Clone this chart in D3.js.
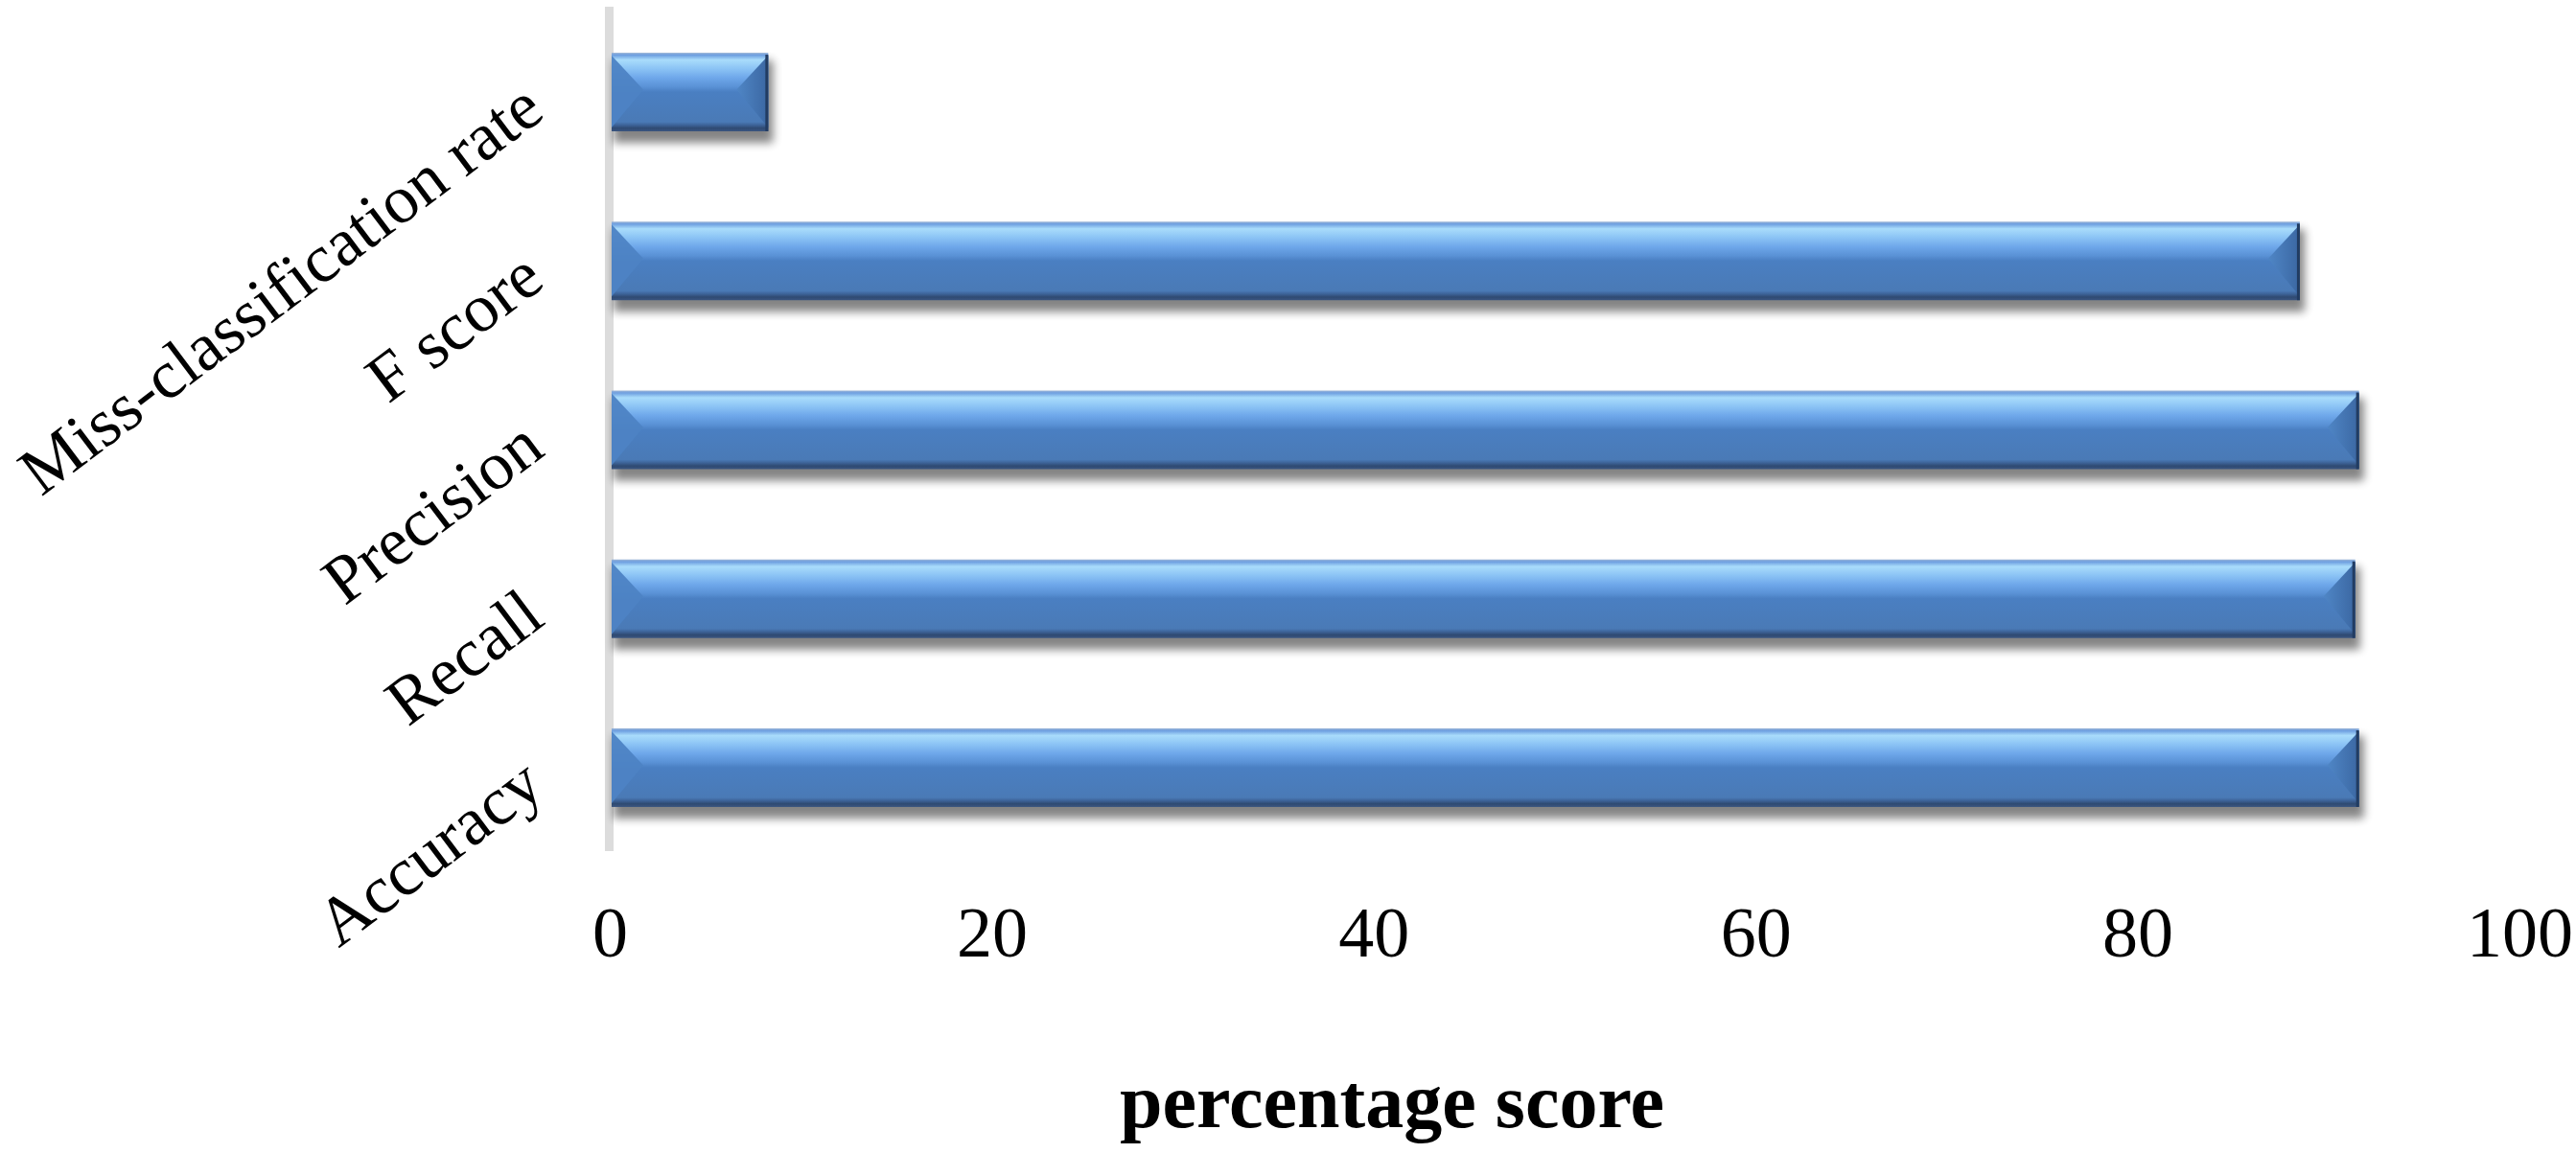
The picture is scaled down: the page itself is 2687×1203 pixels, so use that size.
<!DOCTYPE html>
<html>
<head>
<meta charset="utf-8">
<script src="https://cdn.jsdelivr.net/npm/d3@7"></script>
<style>
  body { margin: 0; background: #fff; }
  svg { display: block; }
  .tick text { font-family: "Liberation Serif", "Times New Roman", serif; }
</style>
</head>
<body>
<svg width="2687" height="1203"></svg>
<script>
// chart data, top bar first
const categories = ['Miss-classification rate', 'F score', 'Precision', 'Recall', 'Accuracy'];
const values = [8.2, 88.4, 91.5, 91.3, 91.5];
const xTicks = [0, 20, 40, 60, 80, 100];
const xTitle = 'percentage score';

const data = categories.map((c, i) => ({ name: c, value: values[i] }));

const svg = d3.select('svg');
const defs = svg.append('defs');

// vertical gradient for the glossy bar body
const grad = defs.append('linearGradient')
    .attr('id', 'barGrad')
    .attr('x1', 0).attr('y1', 0).attr('x2', 0).attr('y2', 1);
[
    [0, '#9ab4d6'], [0.03, '#6e9fe0'], [0.09, '#a9dcfb'], [0.2, '#8cc4f5'],
    [0.32, '#6ea7ea'], [0.43, '#5a92d6'], [0.5, '#4a7fc2'], [0.88, '#4a7ab6'],
    [0.92, '#3d6398'], [0.96, '#2f4a72'], [1, '#3a5580']
].forEach(s => grad.append('stop').attr('offset', s[0]).attr('stop-color', s[1]));

const rightGrad = defs.append('linearGradient')
    .attr('id', 'rightGrad')
    .attr('x1', 0).attr('y1', 0).attr('x2', 1).attr('y2', 0);
rightGrad.append('stop').attr('offset', 0).attr('stop-color', '#4f86c6');
rightGrad.append('stop').attr('offset', 1).attr('stop-color', '#3b67a2');

const shadow = defs.append('filter')
    .attr('id', 'shadow')
    .attr('x', '-10%').attr('y', '-40%').attr('width', '120%').attr('height', '180%');
shadow.append('feGaussianBlur').attr('stdDeviation', 5);

// scales
const xScale = d3.scaleLinear()
    .domain([0, 100])
    .range([638, 2630]);

const yScale = d3.scaleBand()
    .domain(categories)
    .range([8, 889])
    .paddingInner(0.535)
    .paddingOuter(0.267);

// light grey value axis line on the left
svg.append('line')
    .attr('x1', 635.5).attr('x2', 635.5)
    .attr('y1', 7).attr('y2', 888)
    .attr('stroke', '#dcdcdc')
    .attr('stroke-width', 9);

// bars
const bars = svg.selectAll('.bar').data(data)
    .enter().append('g').attr('class', 'bar');

const bh = yScale.bandwidth();
const bev = 33;

bars.append('rect')
    .attr('x', xScale(0) + 2)
    .attr('y', d => yScale(d.name) + 8)
    .attr('width', d => xScale(d.value) - xScale(0) + 3)
    .attr('height', bh + 4)
    .attr('fill', '#000')
    .attr('opacity', 0.48)
    .attr('filter', 'url(#shadow)');

bars.append('rect')
    .attr('x', xScale(0))
    .attr('y', d => yScale(d.name))
    .attr('width', d => xScale(d.value) - xScale(0))
    .attr('height', bh)
    .attr('fill', 'url(#barGrad)');

// left bevel facet
bars.append('polygon')
    .attr('points', d => {
        const x0 = xScale(0), y0 = yScale(d.name);
        const b = Math.min(bev, (xScale(d.value) - x0) / 2);
        return `${x0},${y0 + 3} ${x0 + b},${y0 + bh * 0.47} ${x0},${y0 + bh - 4}`;
    })
    .attr('fill', '#4d83c4')
    .attr('opacity', 0.95);

// right bevel facet
bars.append('polygon')
    .attr('points', d => {
        const x1 = xScale(d.value), y0 = yScale(d.name);
        const b = Math.min(bev, (x1 - xScale(0)) / 2);
        return `${x1},${y0 + 3} ${x1 - b},${y0 + bh * 0.47} ${x1},${y0 + bh - 4}`;
    })
    .attr('fill', 'url(#rightGrad)');

// dark right edge
bars.append('rect')
    .attr('x', d => xScale(d.value) - 3)
    .attr('y', d => yScale(d.name) + 2)
    .attr('width', 3)
    .attr('height', bh - 2)
    .attr('fill', '#223c62');

// category labels, rotated
svg.selectAll('.cat-label').data(categories)
    .enter().append('text')
    .attr('class', 'cat-label')
    .attr('transform', d => `translate(556,${yScale(d) + bh / 2 + 6}) rotate(-37)`)
    .attr('text-anchor', 'end')
    .attr('dominant-baseline', 'central')
    .style('font-family', '"Liberation Serif", "Times New Roman", serif')
    .style('font-size', '71px')
    .style('fill', '#000')
    .text(d => d);

// x axis tick labels
const xAxis = d3.axisBottom(xScale)
    .tickValues(xTicks)
    .tickSize(0)
    .tickPadding(0);

const xAxisG = svg.append('g')
    .attr('transform', 'translate(-2,998)')
    .call(xAxis);
xAxisG.select('.domain').remove();
xAxisG.selectAll('text')
    .attr('dy', 0)
    .style('font-size', '74px')
    .style('fill', '#000');

// axis title
svg.append('text')
    .attr('x', 1452)
    .attr('y', 1176)
    .attr('text-anchor', 'middle')
    .style('font-family', '"Liberation Serif", "Times New Roman", serif')
    .style('font-weight', 'bold')
    .style('font-size', '80px')
    .style('fill', '#000')
    .text(xTitle);
</script>
</body>
</html>
